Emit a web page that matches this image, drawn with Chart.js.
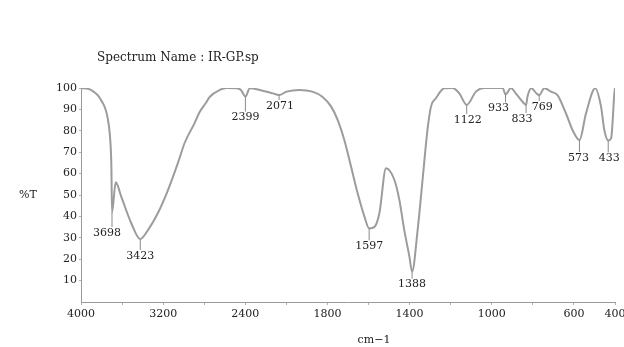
<!DOCTYPE html>
<html><head><meta charset="utf-8">
<script src="https://cdn.jsdelivr.net/npm/chart.js@4/dist/chart.umd.min.js"></script>
<style>html,body{margin:0;padding:0;background:#fff}#wrap{width:624px;height:347px;position:relative}</style>
</head><body><div id="wrap"><canvas id="c" width="624" height="347"></canvas></div>
<script>
// ---- data ----
const wavenumbers = [4000,3903,3805,3737,3711,3704,3698,3662,3608,3511,3423,3348,3251,3153,3056,2991,2894,2842,2784,2745,2648,2582,2485,2443,2399,2356,2258,2132,2071,1999,1937,1873,1825,1782,1750,1718,1685,1653,1620,1597,1572,1547,1515,1474,1450,1426,1401,1388,1361,1337,1313,1296,1272,1231,1191,1158,1122,1077,1036,947,933,907,883,850,833,826,807,783,769,744,712,680,639,607,573,541,496,468,452,433,419,403,400];
const transmittance = [100,99.1,94.4,85,72.6,63,42,56,49.2,36.9,29.4,33.6,41.6,52.3,65,74.3,83.6,89,93,95.9,99.1,100,99.9,99.1,96,99.9,99.1,97.5,96.7,98.3,99.1,98.3,95.9,91.3,85,75.7,63.2,50.8,39.9,34.4,35,41.6,62.5,57,47.7,33.6,21.2,14.2,33.6,57,80.4,91.3,95.2,99.9,100,97.5,92.1,98.3,100,100,97,100,97.5,93.6,92.1,96,99.9,97.5,96.7,99.9,98.3,96.7,88.2,80.4,75.7,88.2,99.9,91.3,80.4,75.5,76.5,97.5,100];
const xTickLabels = [4000,3200,2400,1800,1400,1000,600,400];
const xMinorTicks = [3600,2800,2000,1600,1200,800];
const yTickLabels = [10,20,30,40,50,60,70,80,90,100];
const peakWavenumbers = [3698,3423,2399,2071,1597,1388,1122,933,833,769,573,433];
const peakLabels = ['3698','3423','2399','2071','1597','1388','1122','933','833','769','573','433'];
const titleText = 'Spectrum Name : IR-GP.sp';
const yAxisTitle = '%T';
const xAxisTitle = 'cm\u22121';

// ---- presentation ----
const FAMILY = '"DejaVu Serif", "Liberation Serif", serif';
const FONT = '11px ' + FAMILY;
const TEXT = '#222';
// label placement relative to the peak point: [dx, dy]
const peakLabelOffsets = [[-5,20],[0,16],[0,20],[1,10],[0,17],[0,12],[1,14],[-7,13],[-4,13],[3,11],[-1,17],[1,17]];

// axis with a scale change at 2000 cm-1 (half resolution above 2000)
function toAxis(w){ return w <= 2000 ? w : 2000 + (w - 2000) / 2; }
function fromAxis(t){ return t <= 2000 ? t : 2000 + (t - 2000) * 2; }

const points = wavenumbers.map((w,i)=>({x: toAxis(w), y: transmittance[i]}));

const textPlugin = {
  id: 'texts',
  afterDraw(chart){
    const ctx = chart.ctx, xs = chart.scales.x, ys = chart.scales.y;
    ctx.save();
    ctx.fillStyle = TEXT;
    ctx.textBaseline = 'middle';
    ctx.textAlign = 'left';
    ctx.font = '12px ' + FAMILY;
    ctx.fillText(titleText, 97, 58);
    ctx.font = FONT;
    ctx.fillText(yAxisTitle, 19, 195);
    ctx.textAlign = 'center';
    ctx.fillText(xAxisTitle, 374, 340);
    // peak labels
    ctx.strokeStyle = '#8a8a8a'; ctx.lineWidth = 1;
    peakWavenumbers.forEach((w,i)=>{
      const idx = wavenumbers.indexOf(w);
      const px = xs.getPixelForValue(toAxis(w));
      const py = ys.getPixelForValue(transmittance[idx]);
      const [dx,dy] = peakLabelOffsets[i];
      const ly = py + dy;
      ctx.beginPath(); ctx.moveTo(px, py); ctx.lineTo(px, ly - 5); ctx.stroke();
      ctx.fillText(peakLabels[i], px + dx, ly + 1);
    });
    ctx.restore();
  }
};

new Chart(document.getElementById('c'), {
  type: 'line',
  data: { datasets: [{ data: points, borderColor: '#9c9c9c', borderWidth: 2, pointRadius: 0, fill: false, cubicInterpolationMode: 'monotone' }] },
  options: {
    responsive: false, animation: false, devicePixelRatio: 1,
    layout: { padding: { top: 88, right: 9, bottom: 0, left: 0 } },
    plugins: { legend: { display: false }, tooltip: { enabled: false } },
    scales: {
      x: {
        type: 'linear', reverse: true, min: toAxis(400), max: toAxis(4000),
        afterBuildTicks(s){ s.ticks = [...xTickLabels, ...xMinorTicks].map(w=>({value: toAxis(w)})).sort((a,b)=>a.value-b.value); },
        afterFit(s){ s.height = 45; s.paddingLeft = 0; s.paddingRight = 0; },
        grid: { display: true, drawOnChartArea: false, drawTicks: true, tickLength: 3, color: '#b0b0b0' },
        border: { display: true, color: '#9a9a9a', width: 1 },
        ticks: { autoSkip: false, maxRotation: 0, padding: 3, color: TEXT, font: { family: FAMILY, size: 11 },
          callback(v){ const w = Math.round(fromAxis(v)); return xTickLabels.includes(w) ? String(w) : ''; } }
      },
      y: {
        min: 0, max: 100,
        afterBuildTicks(s){ s.ticks = yTickLabels.map(v=>({value: v})); },
        afterFit(s){ s.width = 81; s.paddingTop = 0; s.paddingBottom = 0; },
        grid: { display: true, drawOnChartArea: false, drawTicks: true, tickLength: 2, color: '#b0b0b0' },
        border: { display: true, color: '#9a9a9a', width: 1 },
        ticks: { padding: 2, color: TEXT, font: { family: FAMILY, size: 11 } }
      }
    }
  },
  plugins: [textPlugin]
});
</script></body></html>
